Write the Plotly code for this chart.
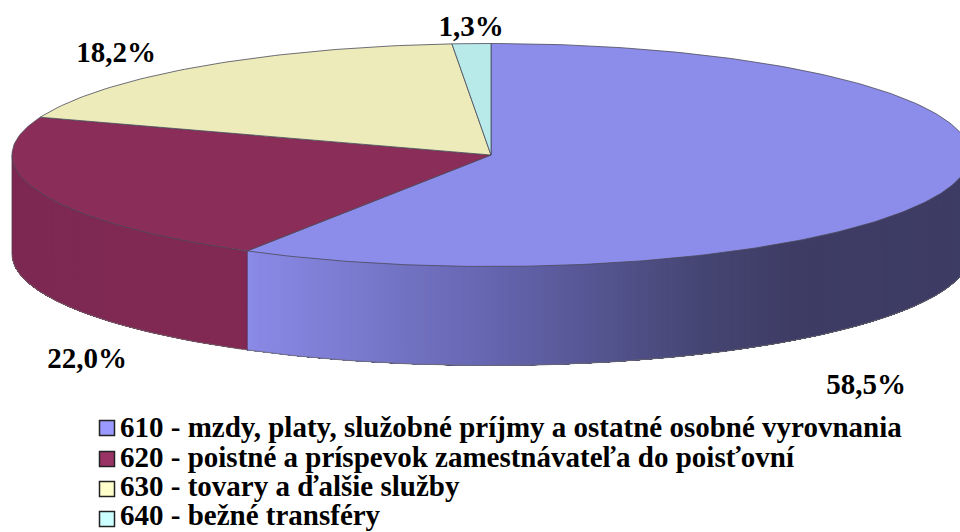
import numpy as np
import plotly.graph_objects as go

categories = ["610 - mzdy, platy, služobné príjmy a ostatné osobné vyrovnania",
              "620 - poistné a príspevok zamestnávateľa do poisťovní",
              "630 - tovary a ďalšie služby",
              "640 - bežné transféry"]
values = [58.5, 22.0, 18.2, 1.3]
labels = ["58,5%", "22,0%", "18,2%", "1,3%"]
top_colors = ["#8C8CEB", "#8B2D59", "#ECEBB9", "#B8EAEA"]
legend_colors = ["#9999FF", "#993366", "#FFFFCC", "#CCFFFF"]

CX, CY, RX, RY, DEPTH = 491, 155, 479, 111.5, 99
LABEL_XY = [(866, 387), (87, 361), (116, 55), (471, 29)]
LEGEND_MARK_X, LEGEND_TEXT_X = 107, 120
LEGEND_MARK_Y = [428, 459, 489, 519]
LEGEND_TEXT_Y = [430, 459.5, 489, 518]
FONT = "Liberation Serif"

def px(t):
    return CX + RX * np.sin(t), CY - RY * np.cos(t)

def lerp_hex(stops, x):
    xs = [s[0] for s in stops]
    return "rgb(%d,%d,%d)" % tuple(np.interp(x, xs, [s[1][i] for s in stops]) for i in range(3))

purple_side = [(246, (139, 139, 232)), (500, (100, 100, 174)), (700, (70, 70, 116)), (800, (62, 60, 100)), (960, (62, 60, 100))]
maroon_side = [(12, (125, 41, 83)), (246, (130, 42, 84))]
sides = [purple_side, maroon_side]

fig = go.Figure()
edges = np.cumsum([0] + values) / sum(values) * 2 * np.pi

# Side wall (visible front half only): each strip runs to the slice end and is overpainted by the next
FRONT0, FRONT1 = np.pi / 2, 3 * np.pi / 2
for i, stops in enumerate(sides):
    a0, a1 = max(edges[i], FRONT0), min(edges[i + 1], FRONT1)
    n = max(2, int((a1 - a0) / np.radians(0.5)))
    ts = np.linspace(a0, a1, n + 1)
    for t0, t1 in zip(ts[:-1], ts[1:]):
        tt = np.linspace(t0, a1, 40)
        x, y = px(tt)
        xs = list(x) + list(x[::-1]) + [x[0]]
        ys = list(y) + list(y[::-1] + DEPTH) + [y[0]]
        c = lerp_hex(stops, float(px((t0 + t1) / 2)[0]))
        fig.add_trace(go.Scatter(x=xs, y=ys, mode="lines", fill="toself", fillcolor=c,
                                 line=dict(width=0), showlegend=False, hoverinfo="skip"))

# Side outline
tt = np.linspace(FRONT0, FRONT1, 181)
x, y = px(tt)
fig.add_trace(go.Scatter(x=x, y=y + DEPTH, mode="lines", line=dict(color="#6a6a6a", width=0.8),
                         showlegend=False, hoverinfo="skip"))
x0, y0 = px(edges[1])
fig.add_trace(go.Scatter(x=[x0, x0], y=[y0, y0 + DEPTH], mode="lines", line=dict(color="#5a2a4a", width=0.8),
                         showlegend=False, hoverinfo="skip"))
x0, y0 = px(FRONT1)
fig.add_trace(go.Scatter(x=[x0, x0], y=[y0, y0 + DEPTH], mode="lines", line=dict(color="#5a3a50", width=0.8),
                         showlegend=False, hoverinfo="skip"))

# Top faces
for i in range(len(values)):
    tt = np.linspace(edges[i], edges[i + 1], max(3, int(values[i] * 4)))
    x, y = px(tt)
    fig.add_trace(go.Scatter(x=[CX, *x, CX], y=[CY, *y, CY], mode="lines", fill="toself",
                             fillcolor=top_colors[i], line=dict(color="#4a4a5a", width=0.8),
                             name=categories[i], showlegend=False, hoverinfo="skip"))

# Value labels
fig.add_trace(go.Scatter(x=[p[0] for p in LABEL_XY], y=[p[1] for p in LABEL_XY], mode="text",
                         text=labels, textposition="middle center", cliponaxis=False,
                         textfont=dict(family=FONT, size=29, color="black", weight="bold"),
                         showlegend=False, hoverinfo="skip"))

# Legend rows
fig.add_trace(go.Scatter(x=[LEGEND_MARK_X] * 4, y=LEGEND_MARK_Y, mode="markers",
                         marker=dict(symbol="square", size=15, color=legend_colors,
                                     line=dict(color="#222", width=1.5)),
                         showlegend=False, hoverinfo="skip"))
fig.add_trace(go.Scatter(x=[LEGEND_TEXT_X] * 4, y=LEGEND_TEXT_Y, mode="text", text=categories,
                         textposition="middle right", cliponaxis=False,
                         textfont=dict(family=FONT, size=29, color="black", weight="bold"),
                         showlegend=False, hoverinfo="skip"))

fig.update_layout(
    width=960, height=532, margin=dict(l=0, r=0, t=0, b=0),
    paper_bgcolor="white", plot_bgcolor="white",
    xaxis=dict(range=[0, 960], visible=False, fixedrange=True),
    yaxis=dict(range=[532, 0], visible=False, fixedrange=True),
    showlegend=False,
)
fig.write_html("out.html", config={"displayModeBar": False},
               post_script="document.body.style.margin='0';document.documentElement.style.overflow='hidden';")
